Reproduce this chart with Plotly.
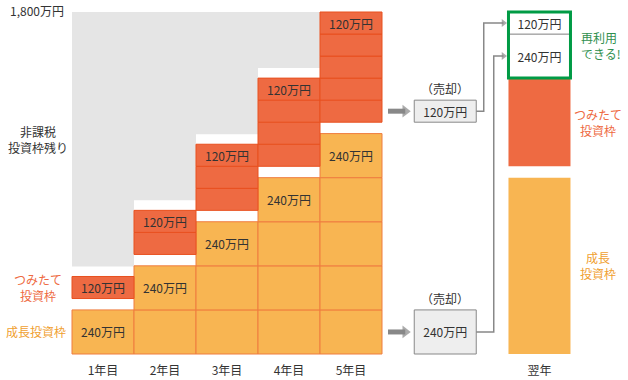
import plotly.graph_objects as go

# ---------------- data ----------------
years = ["1年目", "2年目", "3年目", "4年目", "5年目"]
next_label = "翌年"
growth_annual = [240, 240, 240, 240, 240]      # 成長投資枠 (万円/年)
tsumitate_annual = [120, 120, 120, 120, 120]   # つみたて投資枠 (万円/年)
LIMIT = 1800                                   # 非課税保有限度額 (万円)
sold_tsumitate = 120                           # 売却 (つみたて)
sold_growth = 240                              # 売却 (成長)
unit = "万円"

# ---------------- layout constants ----------------
GAP = 62          # visual gap between growth and tsumitate stacks (in 万円 scale)
GRAY_GAP = 55     # visual gap above the tsumitate stack
SELL_X = 5.52
NEXT_X = 7.04
TOP = LIMIT + GAP
PXY = TOP / 342.0   # data units per pixel (vertical)
PXX = 1 / 62.0      # data units per pixel (horizontal)

FONT = "Noto Sans CJK JP, Noto Sans, sans-serif"
TXT = "#333333"
ORANGE = "#F8B552"
ORANGE_LINE = "#EF7D3F"
RED = "#EE6A42"
RED_LINE = "#E8501F"
GRAY = "#E5E5E5"
GREEN = "#009B45"
GREEN_TXT = "#2F8F4E"
ARROW = "#888888"

# ---------------- build block stacks from data ----------------
gx, gb, gy, gt = [], [], [], []
tx, tb, ty, tt = [], [], [], []
rx, rb, ry = [], [], []
cum_g, cum_t = [], []
for i in range(len(years)):
    base = 0
    for j in range(i + 1):
        gx.append(i); gb.append(base); gy.append(growth_annual[j])
        gt.append(f"{growth_annual[j]}{unit}" if j == i else "")
        base += growth_annual[j]
    cg = base
    base = cg + GAP
    for j in range(i + 1):
        tx.append(i); tb.append(base); ty.append(tsumitate_annual[j])
        tt.append(f"{tsumitate_annual[j]}{unit}" if j == i else "")
        base += tsumitate_annual[j]
    ct = base - cg - GAP
    cum_g.append(cg); cum_t.append(ct)
    if LIMIT - cg - ct > 0:
        b = cg + GAP + ct + GRAY_GAP
        rx.append(i); rb.append(b); ry.append(TOP - b)

held_g = cum_g[-1] - sold_growth
held_t = cum_t[-1] - sold_tsumitate
reuse_base = held_g + GAP + held_t

fig = go.Figure()
common = dict(width=1, textposition="inside", insidetextanchor="middle",
              constraintext="none", textangle=0,
              insidetextfont=dict(family=FONT, size=12, color=TXT),
              hoverinfo="skip", showlegend=False)

# remaining tax-free frame (gray)
fig.add_bar(x=rx, base=rb, y=ry, marker=dict(color=GRAY, line=dict(width=0)), **common)
# growth blocks
fig.add_bar(x=gx, base=gb, y=gy, text=gt,
            marker=dict(color=ORANGE, line=dict(color=ORANGE_LINE, width=1)), **common)
# tsumitate blocks
fig.add_bar(x=tx, base=tb, y=ty, text=tt,
            marker=dict(color=RED, line=dict(color=RED_LINE, width=1)), **common)
# sold boxes
sell_base = [cum_g[-1] + GAP, 0]
sell_vals = [sold_tsumitate, sold_growth]
fig.add_bar(x=[SELL_X, SELL_X], base=sell_base, y=sell_vals,
            text=[f"{v}{unit}" for v in sell_vals],
            marker=dict(color="#EEEEEE", line=dict(color=ARROW, width=1)), **common)
# next year
fig.add_bar(x=[NEXT_X], base=[0], y=[held_g], marker=dict(color=ORANGE, line=dict(width=0)), **common)
fig.add_bar(x=[NEXT_X], base=[held_g + GAP], y=[held_t], marker=dict(color=RED, line=dict(width=0)), **common)
reuse_b = [reuse_base, reuse_base + sold_growth]
reuse_v = [sold_growth, sold_tsumitate]
fig.add_bar(x=[NEXT_X, NEXT_X], base=reuse_b, y=reuse_v,
            text=[f"{v}{unit}" for v in reuse_v],
            marker=dict(color="white", line=dict(color="#999999", width=1)), **common)
fig.add_bar(x=[NEXT_X], base=[reuse_base], y=[sold_growth + sold_tsumitate],
            marker=dict(color="rgba(0,0,0,0)", line=dict(color=GREEN, width=3)), **common)

# block arrows to sold boxes
for yb, v in zip(sell_base, sell_vals):
    ym = yb + v / 2
    fig.add_scatter(x=[len(years) - 0.5 + 6 * PXX, SELL_X - 0.5 - 9 * PXX], y=[ym, ym],
                    mode="lines+markers", line=dict(color=ARROW, width=5),
                    marker=dict(symbol="triangle-right", size=[0, 11], color=ARROW, line=dict(width=0)),
                    hoverinfo="skip", showlegend=False)

# connectors from sold boxes to next year's reusable frame
conn = [
    (sell_base[0] + sold_tsumitate / 2, reuse_base + sold_growth + sold_tsumitate / 2, 7.5),
    (sell_base[1] + sold_growth / 2, reuse_base + sold_growth / 2, 17.5),
]
for y0, y1, off in conn:
    xv = SELL_X + 0.5 + off * PXX
    fig.add_scatter(x=[SELL_X + 0.5, xv, xv, NEXT_X - 0.5 - 5 * PXX], y=[y0, y0, y1, y1],
                    mode="lines+markers", line=dict(color=ARROW, width=1.5),
                    marker=dict(symbol="triangle-right", size=[0, 0, 0, 7], color=ARROW, line=dict(width=0)),
                    hoverinfo="skip", showlegend=False)

ann = []
def A(x, y, text, color=TXT, xanchor="center", yanchor="middle", xshift=0, yshift=0, align="center", size=12):
    ann.append(dict(x=x, y=y, text=text, showarrow=False, xanchor=xanchor, yanchor=yanchor,
                    xshift=xshift, yshift=yshift, align=align,
                    font=dict(family=FONT, size=size, color=color)))

A(-0.5, TOP, f"{LIMIT:,}{unit}", xanchor="right", xshift=-6, yshift=2)
A(-0.5, (rb[0] + TOP) / 2, "非課税<br>投資枠残り", xanchor="center", xshift=-34)
A(-0.5, tb[0] + ty[0] / 2, "つみたて<br>投資枠", color="#EE6A42", xanchor="center", xshift=-34)
A(-0.5, growth_annual[0] / 2, "成長投資枠", color="#F0A030", xanchor="right", xshift=-4)
for yb, v in zip(sell_base, sell_vals):
    A(SELL_X, yb + v, "（売却）", yanchor="bottom", yshift=1)
A(NEXT_X + 0.5, reuse_base + (sold_growth + sold_tsumitate) / 2, "再利用<br>できる!",
  color=GREEN_TXT, xanchor="left", align="left", xshift=9)
A(NEXT_X + 0.5, held_g + GAP + held_t / 2, "つみたて<br>投資枠", color="#EE6A42", xanchor="center", xshift=28)
A(NEXT_X + 0.5, held_g / 2, "成長<br>投資枠", color="#F0A030", xanchor="center", xshift=28)

fig.update_layout(
    width=628, height=380,
    margin=dict(l=0, r=0, t=10, b=24),
    paper_bgcolor="white", plot_bgcolor="white",
    barmode="overlay", showlegend=False,
    font=dict(family=FONT, size=12, color=TXT),
    annotations=ann,
    xaxis=dict(range=[-103 * PXX, 525 * PXX], tickvals=list(range(len(years))) + [NEXT_X],
               ticktext=years + [next_label], showgrid=False, zeroline=False, showline=False,
               ticks="", ticklabelstandoff=6,
               tickfont=dict(family=FONT, size=12, color=TXT), fixedrange=True),
    yaxis=dict(range=[-2 * PXY, TOP + 2 * PXY], visible=False, showgrid=False, zeroline=False,
               fixedrange=True),
)

fig.write_html("out.html", config={"displayModeBar": False},
               post_script="document.body.style.margin='0';document.body.style.overflow='hidden';")
